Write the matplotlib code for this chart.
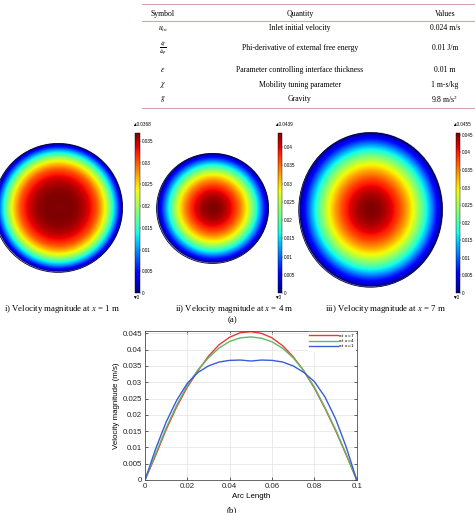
import numpy as np
import matplotlib
matplotlib.use('Agg')
import matplotlib.pyplot as plt
from matplotlib.patches import Ellipse

plt.rcParams['mathtext.fontset'] = 'stix'
SERIF = 'Liberation Serif'
SANS = 'Liberation Sans'

W, H = 475, 513

# table contents
symbols = [r'$u_{in}$', r'$\frac{\partial f}{\partial \varphi}$', r'$\varepsilon$', r'$\chi$', r'$g$']
quantities = ['Inlet initial velocity', 'Phi-derivative of external free energy',
              'Parameter controlling interface thickness', 'Mobility tuning parameter', 'Gravity']
values = ['0.024 m/s', '0.01 J/m', '0.01 m', '1 m-s/kg', r'9.8 m/s$^2$']

# line profiles along the diameter
arc = [0.0, 0.005, 0.01, 0.015, 0.02, 0.025, 0.03, 0.035, 0.04, 0.045, 0.05,
       0.055, 0.06, 0.065, 0.07, 0.075, 0.08, 0.085, 0.09, 0.095, 0.1]
vel_x7 = [0, 0.0075, 0.0155, 0.0225, 0.0285, 0.0335, 0.0380, 0.0415, 0.0438, 0.0452, 0.0455,
          0.0450, 0.0436, 0.0412, 0.0378, 0.0335, 0.0282, 0.0220, 0.0152, 0.0078, 0]
vel_x4 = [0, 0.0080, 0.0160, 0.0230, 0.0290, 0.0338, 0.0375, 0.0405, 0.0425, 0.0436, 0.0439,
          0.0435, 0.0424, 0.0404, 0.0375, 0.0335, 0.0285, 0.0222, 0.0155, 0.0080, 0]
vel_x1 = [0, 0.0095, 0.0178, 0.0245, 0.0297, 0.0330, 0.0350, 0.0362, 0.0367, 0.0368, 0.0365,
          0.0368, 0.0367, 0.0362, 0.0350, 0.0330, 0.0302, 0.0255, 0.0188, 0.0102, 0]

# cross sections (a)
sec_profiles = [vel_x1, vel_x4, vel_x7]
sec_max = [0.0368, 0.0439, 0.0455]
sec_max_labels = ['\u25b20.0368', '\u25b20.0439', '\u25b20.0455']
sec_ticks = [[0, 0.005, 0.01, 0.015, 0.02, 0.025, 0.03, 0.035],
             [0, 0.005, 0.01, 0.015, 0.02, 0.025, 0.03, 0.035, 0.04],
             [0, 0.005, 0.01, 0.015, 0.02, 0.025, 0.03, 0.035, 0.04, 0.045]]
captions = [r'i) Velocity magnitude at $x$ = 1 m', r'ii) Velocity magnitude at $x$ = 4 m',
            r'iii) Velocity magnitude at $x$ = 7 m']


def box(x0, y0, x1, y1):
    return [x0 / W, 1 - y1 / H, (x1 - x0) / W, (y1 - y0) / H]


def fy(y):
    return 1 - y / H


fig = plt.figure(figsize=(4.75, 5.13), dpi=100)

# ---- table ----
rule = '#d4a5a5'
for yy in [4, 20.7, 108]:
    fig.add_artist(plt.Line2D([142 / W, 1], [fy(yy), fy(yy)], color=rule, lw=0.8))
tfs = 5.6
fig.text(163 / W, fy(14), 'Symbol', ha='center', va='center', fontsize=tfs, family=SERIF)
fig.text(300 / W, fy(14), 'Quantity', ha='center', va='center', fontsize=tfs, family=SERIF)
fig.text(445 / W, fy(14), 'Values', ha='center', va='center', fontsize=tfs, family=SERIF)
row_y = [28.5, 48, 70, 85, 99]
for i in range(len(symbols)):
    fig.text(163 / W, fy(row_y[i]), symbols[i], ha='center', va='center', fontsize=tfs, family=SERIF)
    fig.text(300 / W, fy(row_y[i]), quantities[i], ha='center', va='center', fontsize=tfs, family=SERIF)
    fig.text(445 / W, fy(row_y[i]), values[i], ha='center', va='center', fontsize=tfs, family=SERIF)

# ---- velocity cross sections ----
circ_boxes = [(-7, 143, 123, 273), (156, 153, 269, 264), (298, 132, 443, 288)]
cbar_x = [135, 277.5, 455.5]
cap_x = [62, 234, 385]

g = np.linspace(-1, 1, 401)
X, Y = np.meshgrid(g, g)
R = np.sqrt(X ** 2 + Y ** 2)
r_half = np.abs(np.array(arc[10:]) - 0.05) / 0.05

for k in range(3):
    v = np.array(sec_profiles[k])
    v_half = (v[10:] + v[10::-1]) / 2
    field = np.interp(R, r_half, v_half)
    field[R > 1] = np.nan
    ax = fig.add_axes(box(*circ_boxes[k]))
    ax.imshow(field, cmap='jet', vmin=0, vmax=sec_max[k], origin='lower',
              extent=[-1, 1, -1, 1], aspect='auto', interpolation='bilinear')
    ax.add_patch(Ellipse((0, 0), 2, 2, fill=False, ec='#000040', lw=0.6))
    ax.set_xlim(-1.01, 1.01)
    ax.set_ylim(-1.01, 1.01)
    ax.axis('off')

    cax = fig.add_axes(box(cbar_x[k], 133, cbar_x[k] + 4.5, 293))
    sm = plt.cm.ScalarMappable(cmap='jet', norm=plt.Normalize(0, sec_max[k]))
    cb = fig.colorbar(sm, cax=cax, ticks=sec_ticks[k])
    cb.ax.set_yticklabels(['%g' % t for t in sec_ticks[k]], fontsize=3.3, family=SANS)
    cb.ax.tick_params(length=1, width=0.3, pad=0.6)
    cb.outline.set_linewidth(0.3)
    fig.text((cbar_x[k] - 3) / W, fy(125), sec_max_labels[k], ha='left', va='center',
             fontsize=3.3, family=SANS)
    fig.text((cbar_x[k] - 3) / W, fy(297.5), '\u25bc0', ha='left', va='center',
             fontsize=3.3, family=SANS)
    fig.text(cap_x[k] / W, fy(309), captions[k], ha='center', va='center', fontsize=6.3, family=SERIF)

fig.text(232 / W, fy(320), '(a)', ha='center', va='center', fontsize=6.3, family=SERIF)

# ---- line profile (b) ----
ax = fig.add_axes(box(145, 330.7, 356.7, 480))
ax.plot(arc, vel_x7, color='#e8393a', lw=1.0, label='at x=7')
ax.plot(arc, vel_x4, color='#5dbb63', lw=1.0, label='at x=4')
ax.plot(arc, vel_x1, color='#3d5bd9', lw=1.0, label='at x=1')
ax.set_xlim(0, 0.1)
ax.set_ylim(0, 0.0458)
xt = [0, 0.02, 0.04, 0.06, 0.08, 0.1]
yt = [0, 0.005, 0.01, 0.015, 0.02, 0.025, 0.03, 0.035, 0.04, 0.045]
ax.set_xticks(xt)
ax.set_xticklabels(['%g' % t for t in xt], family=SANS)
ax.set_yticks(yt)
ax.set_yticklabels(['%g' % t for t in yt], family=SANS)
ax.grid(color='#e2e2e2', lw=0.5)
ax.set_axisbelow(True)
ax.tick_params(direction='in', top=True, right=True, length=2, width=0.5,
               labelsize=5.7, pad=2, colors='#262626')
for s in ax.spines.values():
    s.set_color('#505050')
    s.set_linewidth(0.6)
ax.set_xlabel('Arc Length', fontsize=5.7, family=SANS, labelpad=2)
ax.set_ylabel('Velocity magnitude (m/s)', fontsize=5.7, family=SANS, labelpad=2)
leg = ax.legend(loc='upper right', fontsize=3.2, handlelength=6.5, handletextpad=0.2,
                labelspacing=0.25, borderpad=0.3, frameon=True, fancybox=False,
                edgecolor='white', framealpha=1, borderaxespad=0.4)

fig.text(232 / W, fy(510.5), '(b)', ha='center', va='center', fontsize=6.3, family=SERIF)

fig.savefig('out.png', dpi=100)
